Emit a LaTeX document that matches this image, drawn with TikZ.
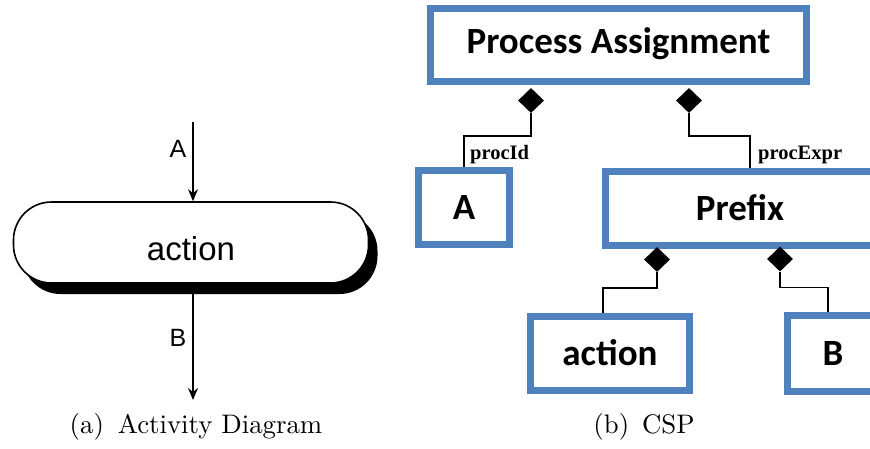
\documentclass[tikz,border=0pt]{standalone}
\usepackage{fontspec}
\newfontfamily\calib{Carlito}
\newfontfamily\arialf{Liberation Sans}
\newfontfamily\timesf{Liberation Serif}
\usetikzlibrary{shapes.geometric,arrows.meta,shadows}
\definecolor{boxblue}{RGB}{79,129,189}
\begin{document}
\begin{tikzpicture}[x=1pt,y=-1pt,
  cbox/.style={draw=boxblue, line width=7pt, fill=white, inner sep=0pt,
    font=\calib\bfseries\fontsize{37}{40}\selectfont, text height=24pt, text depth=0pt},
  dia/.style={diamond, fill=black, inner sep=0pt, minimum width=26pt, minimum height=25pt},
  conn/.style={line width=1.5pt},
  role/.style={font=\timesf\bfseries\fontsize{20.5}{22}\selectfont, anchor=base west, inner sep=0pt},
  arr/.style={line width=1.3pt, -{Stealth[length=12pt,width=10pt,inset=4pt]}},
  lbl/.style={font=\arialf\fontsize{25}{28}\selectfont, inner sep=0pt},
  capt/.style={font=\fontsize{10}{12}\selectfont, scale=2.68, anchor=base, inner sep=0pt}]
\useasboundingbox (0,0) rectangle (870,448);
\clip (0,0) rectangle (870,448);
% ---- (a) activity diagram
\node[draw, line width=1.6pt, fill=white, rounded corners=38pt, minimum width=355pt,
  minimum height=81pt, inner sep=0pt,
  drop shadow={shadow xshift=9pt, shadow yshift=-11pt, opacity=1, fill=black},
  font=\arialf\fontsize{33}{36}\selectfont, text height=35pt, text depth=0pt] (act) at (191,242.5) {action};
\coordinate (ain) at (193,122);
\coordinate (bout) at (193,400);
\draw[arr] (ain) -- (ain |- act.north);
\draw[arr] (ain |- act.south) -- (bout);
\node[lbl] (la) at (178,149) {A};
\node[lbl] (lb) at (178,338) {B};
% ---- (b) CSP
\node[cbox, minimum width=376pt, minimum height=73pt, text depth=8pt] (pa) at (618.5,45) {Process Assignment};
\node[cbox, minimum width=91pt, minimum height=74pt] (a) at (464,207.5) {A};
\node[cbox, minimum width=269pt, minimum height=74pt] (prefix) at (740,208.5) {Prefix};
\node[cbox, minimum width=159pt, minimum height=74pt] (act2) at (610,353.5) {action};
\node[cbox, minimum width=91pt, minimum height=76pt] (b) at (833,353.5) {B};
\node[dia] (d1) at (531,100.5) {};
\node[dia] (d2) at (689,100.5) {};
\node[dia] (d3) at (657,259.5) {};
\node[dia] (d4) at (780,259) {};
\draw[conn] (d1.south) -- ++(0,23) -| (a.north);
\draw[conn] (d2.south) -- ++(0,23) -| ([xshift=10pt]prefix.north);
\draw[conn] (d3.south) -- ++(0,16) -| ([xshift=-7pt]act2.north);
\draw[conn] (d4.south) -- ++(0,16) -| ([xshift=-5pt]b.north);
\node[role] (pid) at (470,159) {procId};
\node[role] (pex) at (758,159) {procExpr};
% ---- captions
\node[capt] (capa) at (196,433) {(a)\hspace{5.2pt}Activity Diagram};
\node[capt] (capb) at (644,433) {(b)\hspace{4.8pt}CSP};
\end{tikzpicture}
\end{document}
